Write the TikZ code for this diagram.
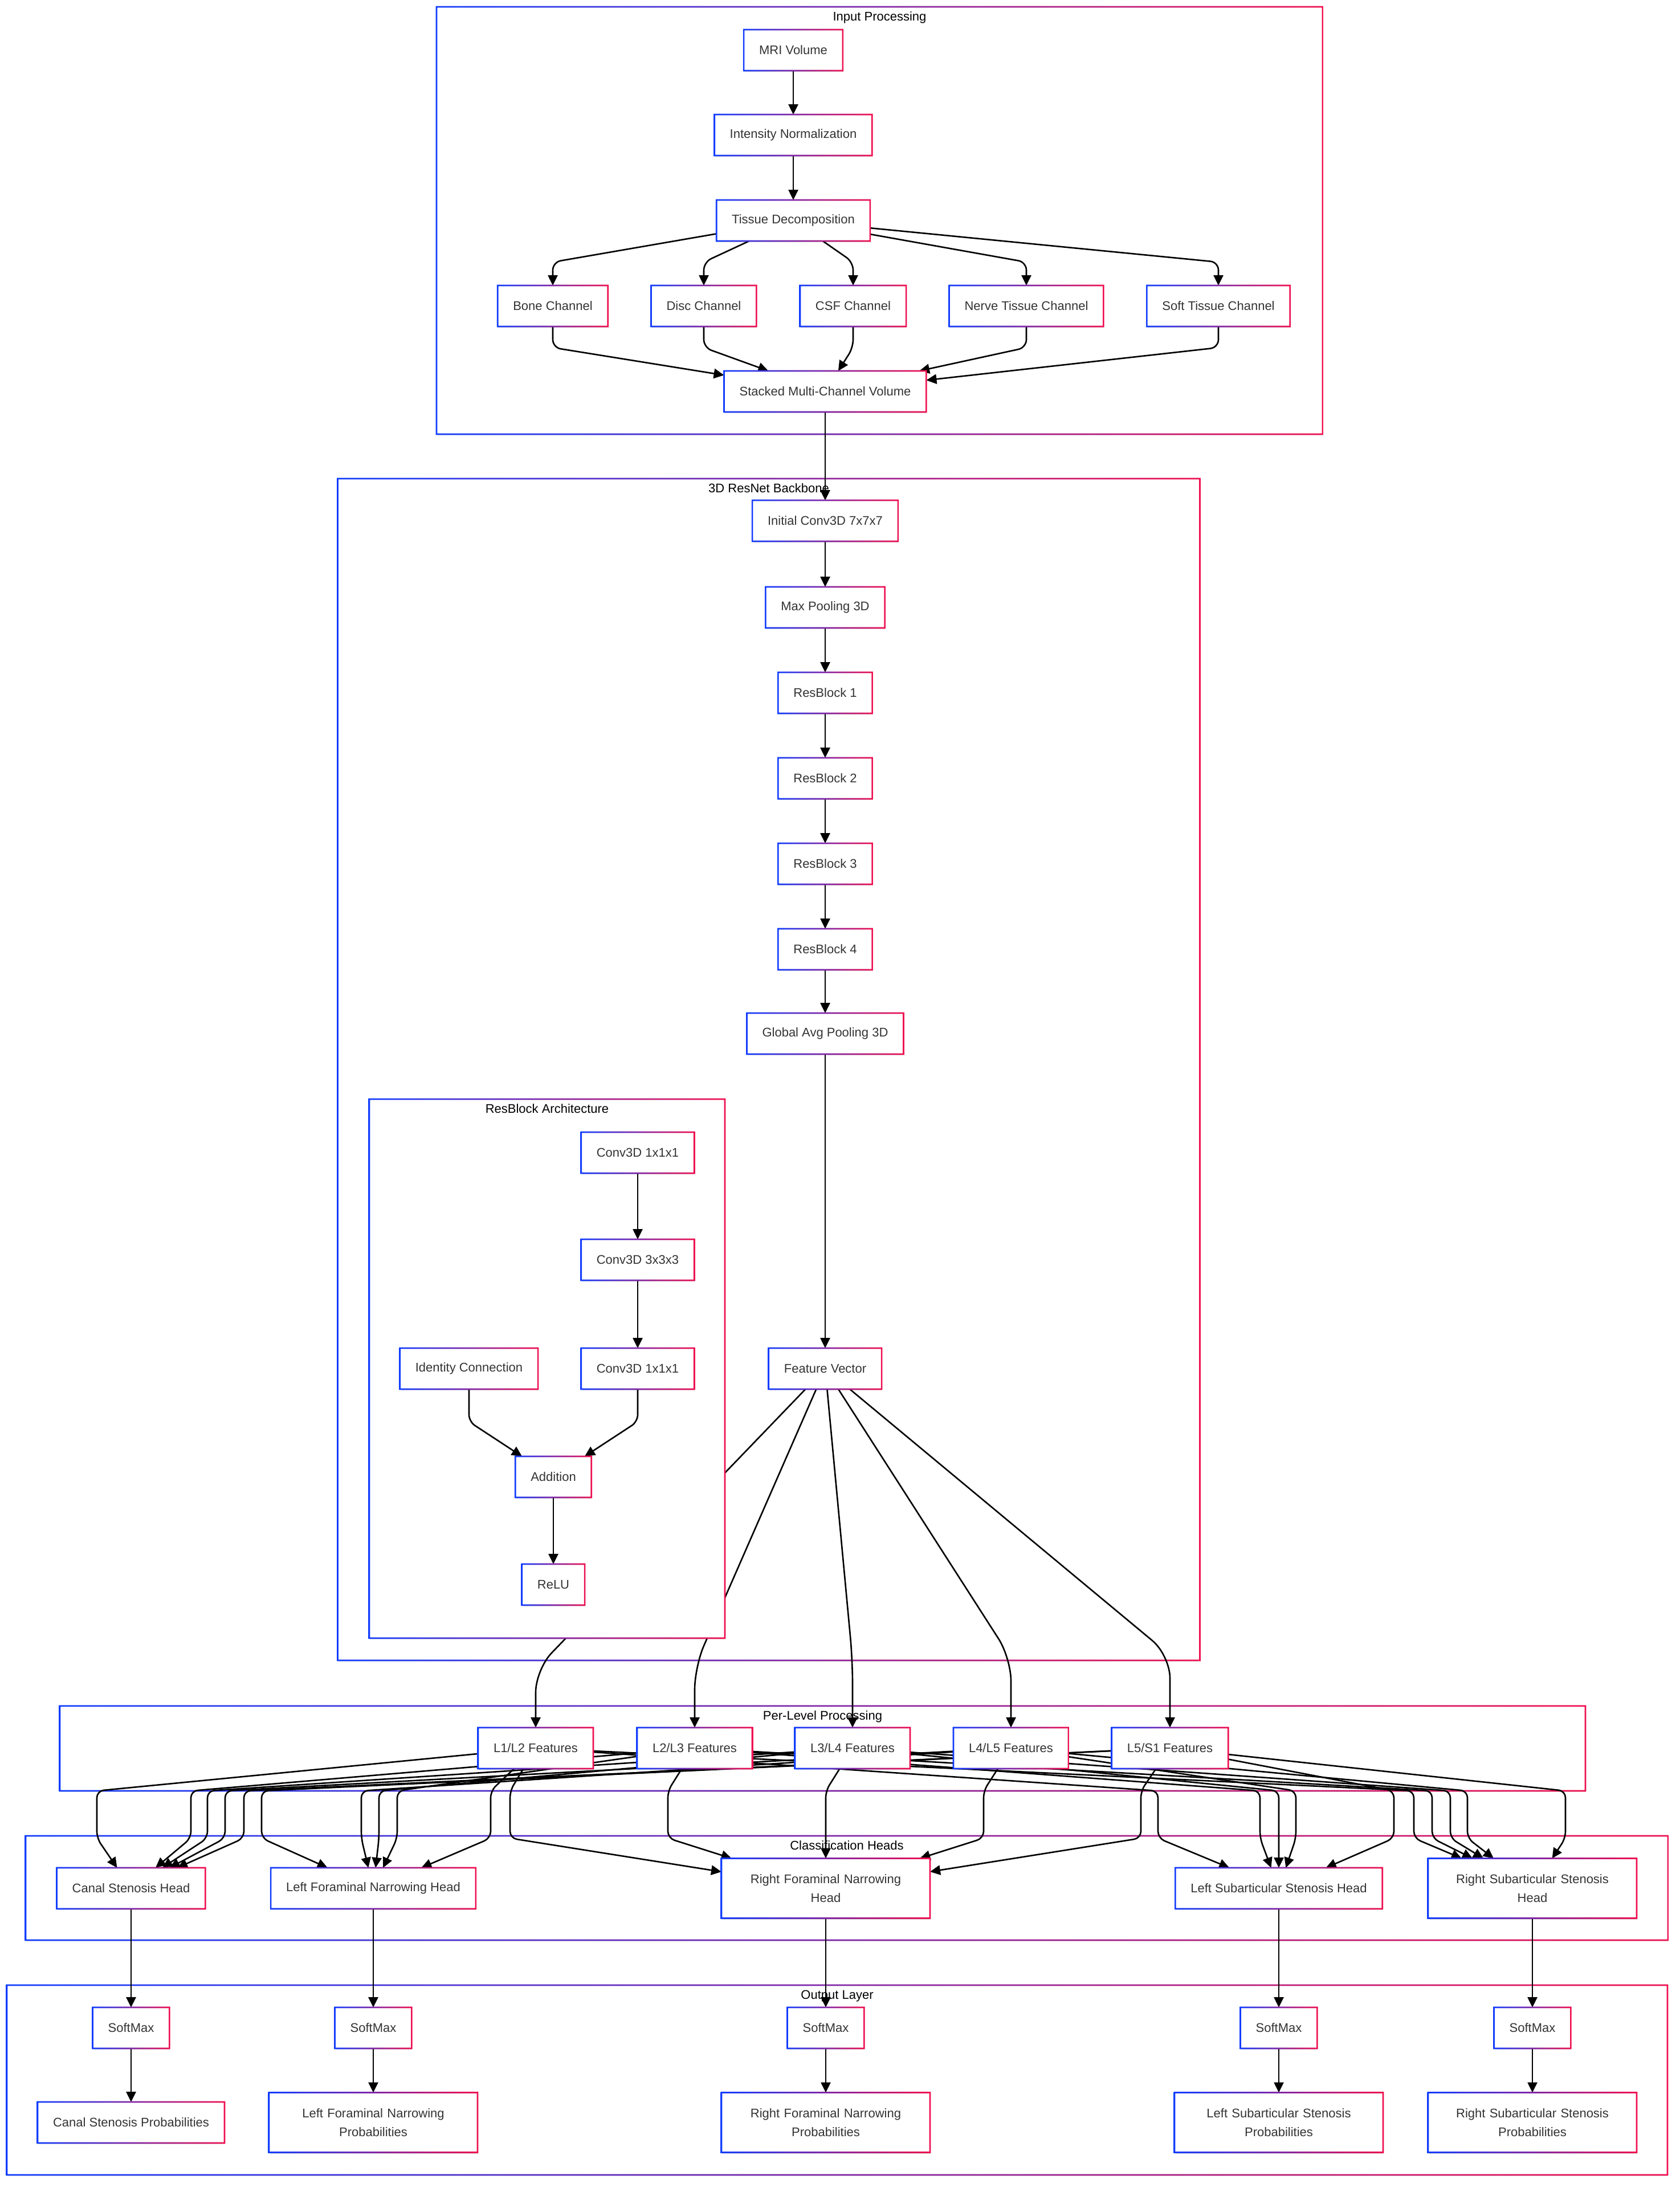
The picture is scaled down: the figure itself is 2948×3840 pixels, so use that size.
\documentclass[tikz,border=0pt]{standalone}
\usepackage{fontspec}
\setmainfont{Liberation Sans}
\usetikzlibrary{arrows.meta,shadows}

\definecolor{cblue}{RGB}{18,61,255}
\definecolor{cred}{RGB}{240,16,80}
\definecolor{ctext}{RGB}{51,51,51}

\pgfdeclarelayer{clus}
\pgfdeclarelayer{edges}
\pgfsetlayers{clus,edges,main}

% gradient border round a node (blue left, red right)
\newcommand{\gradframe}[1]{%
    \shade[left color=cblue, right color=cred, even odd rule]
        ([shift={(-0.65pt,-0.65pt)}]#1.south west) rectangle ([shift={(0.65pt,0.65pt)}]#1.north east)
        ([shift={(0.65pt,0.65pt)}]#1.south west) rectangle ([shift={(-0.65pt,-0.65pt)}]#1.north east);}

\begin{document}
\begin{tikzpicture}[x=0.5pt, y=-0.5pt,
    blk/.style={rectangle, fill=white, text=ctext, font=\fontsize{11}{16.5}\selectfont,
        minimum height=36pt, inner xsep=13.5pt, inner ysep=4pt, outer sep=0pt,
        drop shadow={shadow xshift=0.5pt, shadow yshift=-1pt, opacity=0.15, fill=black}},
    wrap/.style={blk, text width=156pt, align=center, minimum height=52.5pt},
    clus/.style={rectangle, fill=white, inner sep=0pt, outer sep=0pt,
        drop shadow={shadow xshift=0.5pt, shadow yshift=-1pt, opacity=0.12, fill=black}},
    ttl/.style={anchor=base, inner sep=0pt, text=black, font=\fontsize{11}{13}\selectfont},
    arr/.style={-{Triangle[length=9pt,width=8.5pt]}, line width=1.3pt, rounded corners=6pt}]

    % Page and outer clusters
    \begin{pgfonlayer}{clus}
        \fill[white] (0,0) rectangle (2948,3840);
        \foreach \n/\x/\y/\w/\h/\txt in {inp/1543.5/387/1555/750/Input Processing,
                bb/1349/1877/1513/2074/3D ResNet Backbone,
                plp/1443.5/3068.5/2677/149/Per-Level Processing,
                chd/1486/3313.5/2882/183/Classification Heads,
                outl/1469/3650.5/2914/333/Output Layer} {
            \node[clus, minimum width=\w*0.5pt, minimum height=\h*0.5pt] (\n) at (\x,\y) {};
            \gradframe{\n}
            \node[ttl] (\n-t) at ([yshift=-12pt]\n.north) {\txt};
        }
    \end{pgfonlayer}
    \useasboundingbox (0,0) rectangle (2948,3840);
    \coordinate (rowa) at (0,460);
    \coordinate (rowb) at (0,610);

    % Input processing
    \node[blk] (mri) at (1392,88) {MRI Volume};
    \node[blk] (norm) at (1392,237) {Intensity Normalization};
    \node[blk] (tdec) at (1392,387) {Tissue Decomposition};
    \foreach \n/\x/\txt in {bone/970/Bone Channel, disc/1235/Disc Channel, csf/1497/CSF Channel,
            nerve/1801/Nerve Tissue Channel, soft/2138/Soft Tissue Channel}
        \node[blk] (\n) at (\x,537) {\txt};
    \node[blk] (stack) at (1448,687) {Stacked Multi-Channel Volume};

    % Backbone chain
    \foreach \n/\y/\txt in {init/914/Initial Conv3D 7x7x7, maxp/1066/Max Pooling 3D,
            rb1/1216/ResBlock 1, rb2/1366/ResBlock 2, rb3/1516/ResBlock 3, rb4/1666/ResBlock 4,
            gap/1814/Global Avg Pooling 3D, fv/2402/Feature Vector}
        \node[blk] (\n) at (1448,\y) {\txt};

    % ResBlock architecture (sits over the feature vector edges)
    \node[clus, minimum width=312pt, minimum height=473pt] (rba) at (960,2402) {};
    \gradframe{rba}
    \node[ttl] (rba-t) at ([yshift=-12pt]rba.north) {ResBlock Architecture};
    \node[blk] (conva) at (1119,2023) {Conv3D 1x1x1};
    \node[blk] (convb) at (1119,2211) {Conv3D 3x3x3};
    \node[blk] (convc) at (1119,2402) {Conv3D 1x1x1};
    \node[blk] (ident) at (823,2402) {Identity Connection};
    \node[blk] (add) at (971,2592) {Addition};
    \node[blk] (relu) at (971,2781) {ReLU};

    % Inside the ResBlock
    \draw[arr] (conva) -- (convb);
    \draw[arr] (convb) -- (convc);
    \draw[arr] (ident) -- (823,2495) -- (add);
    \draw[arr] (convc) -- (1119,2495) -- (add);
    \draw[arr] (add) -- (relu);

    % Per-level features
    \foreach \n/\x/\txt in {l12/940/{L1/L2 Features}, l23/1219/{L2/L3 Features},
            l34/1496/{L3/L4 Features}, l45/1774/{L4/L5 Features}, l51/2053/{L5/S1 Features}}
        \node[blk] (\n) at (\x,3068) {\txt};

    % Classification heads
    \node[blk] (cs) at (230,3314) {Canal Stenosis Head};
    \node[blk] (lf) at (655,3314) {Left Foraminal Narrowing Head};
    \node[wrap] (rf) at (1449,3314) {Right Foraminal Narrowing\\Head};
    \node[blk] (ls) at (2244,3314) {Left Subarticular Stenosis Head};
    \node[wrap] (rs) at (2689,3314) {Right Subarticular Stenosis\\Head};

    % Output layer
    \foreach \h/\x in {cs/230, lf/655, rf/1449, ls/2244, rs/2689}
        \node[blk] (sm\h) at (\x,3559) {SoftMax};
    \node[blk] (pcs) at (230,3725) {Canal Stenosis Probabilities};
    \node[wrap] (plf) at (655,3725) {Left Foraminal Narrowing\\Probabilities};
    \node[wrap] (prf) at (1449,3725) {Right Foraminal Narrowing\\Probabilities};
    \node[wrap] (pls) at (2244,3725) {Left Subarticular Stenosis\\Probabilities};
    \node[wrap] (prs) at (2689,3725) {Right Subarticular Stenosis\\Probabilities};

    \foreach \n in {mri, norm, tdec, bone, disc, csf, nerve, soft, stack,
            init, maxp, rb1, rb2, rb3, rb4, gap, fv,
            conva, convb, convc, ident, add, relu,
            l12, l23, l34, l45, l51, cs, lf, rf, ls, rs,
            smcs, smlf, smrf, smls, smrs, pcs, plf, prf, pls, prs} {
        \gradframe{\n}
    }

    \begin{pgfonlayer}{edges}
        % Input processing flow
        \draw[arr] (mri) -- (norm);
        \draw[arr] (norm) -- (tdec);
        \foreach \n in {bone, disc, csf, nerve, soft} {
            \draw[arr, rounded corners=7pt] (tdec) -- (\n |- rowa) -- (\n);
            \draw[arr, rounded corners=7pt] (\n) -- (\n |- rowb) -- (stack);
        }
        \draw[arr] (stack) -- (init);

        % Backbone chain
        \draw[arr] (init) -- (maxp);
        \draw[arr] (maxp) -- (rb1);
        \draw[arr] (rb1) -- (rb2);
        \draw[arr] (rb2) -- (rb3);
        \draw[arr] (rb3) -- (rb4);
        \draw[arr] (rb4) -- (gap);
        \draw[arr] (gap) -- (fv);

        % Feature vector to the levels
        \foreach \n/\x/\y in {l12/940/2930, l23/1219/2925, l34/1496/2914, l45/1774/2910, l51/2053/2905}
            \draw[arr, rounded corners=20pt] (fv) -- (\x,\y) -- (\n);

        % Every level to every head
        \foreach \f/\h/\vx in {l12/cs/170, l23/cs/335, l34/cs/364, l45/cs/395, l51/cs/428,
                l12/lf/861, l23/lf/697, l34/lf/665, l45/lf/634, l51/lf/459,
                l12/rf/895, l23/rf/1172, l34/rf/1449, l45/rf/1726, l51/rf/2002,
                l12/ls/2032, l23/ls/2211, l34/ls/2244, l45/ls/2274, l51/ls/2446,
                l12/rs/2481, l23/rs/2513, l34/rs/2545, l45/rs/2575, l51/rs/2747}
            \draw[arr] (\f) -- (\vx,3143) -- (\vx,3226) -- (\h);

        % Heads to softmax to probabilities
        \foreach \h in {cs, lf, rf, ls, rs} {
            \draw[arr] (\h) -- (sm\h);
            \draw[arr] (sm\h) -- (p\h);
        }
    \end{pgfonlayer}
\end{tikzpicture}
\end{document}
